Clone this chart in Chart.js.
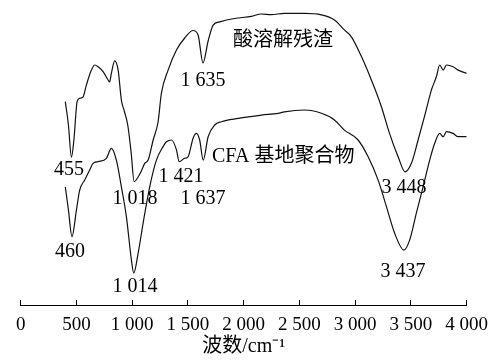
<!DOCTYPE html>
<html>
<head>
<meta charset="utf-8">
<script src="https://cdn.jsdelivr.net/npm/chart.js@4"></script>
<style>
  html, body { margin: 0; padding: 0; background: #fff; }
  canvas { display: block; }
</style>
</head>
<body>
<canvas id="ftir" width="493" height="361"></canvas>
<script>
// FTIR spectra: wavenumber (cm-1) and relative transmittance (arbitrary units)
const residueWn = [400, 428, 455, 477, 506, 529, 560, 589, 634, 664, 694, 739, 784, 798, 813, 843, 874, 903, 930, 960, 990,
  1018, 1050, 1080, 1112, 1143, 1188, 1232, 1262, 1322, 1397, 1471, 1546, 1591, 1635, 1681, 1726, 1785, 1919, 2069, 2159,
  2247, 2365, 2545, 2697, 2814, 2903, 2966, 3056, 3145, 3235, 3307, 3385, 3448, 3505, 3564, 3621, 3684, 3728, 3758, 3789,
  3818, 3878, 3923, 4000];
const residueT = [67.8, 60, 49.3, 55, 67.8, 68.9, 69.4, 73.3, 78.3, 80, 79.4, 77.8, 75, 74.4, 77.2, 81.4, 78.3, 68.3, 64.5, 60, 51,
  41.1, 42.5, 44.5, 47.2, 48.3, 55, 61, 70.6, 78.3, 85, 89, 91.5, 90, 80.7, 88, 93.3, 94.4, 95.5, 96.2, 97,
  96.8, 97.2, 97.2, 96.7, 95, 91.7, 89.4, 82.8, 75, 66.1, 57.3, 49.4, 44.4, 47.3, 55, 62.8, 71.7, 76.1, 80, 78.3,
  80, 79.4, 78.3, 77.2];

const geopolymerWn = [400, 428, 460, 500, 529, 574, 619, 649, 694, 769, 813, 858, 903, 948, 993, 1014, 1053, 1098, 1157, 1217,
  1277, 1307, 1352, 1397, 1421, 1471, 1501, 1546, 1576, 1605, 1637, 1681, 1740, 1800, 1950, 2159, 2309, 2365, 2545, 2697,
  2814, 2903, 3026, 3116, 3205, 3280, 3354, 3437, 3489, 3549, 3609, 3668, 3713, 3758, 3789, 3818, 3878, 3923, 4000];
const geopolymerT = [39.4, 31.7, 22.8, 31.7, 38.3, 41.7, 45, 47.2, 47.8, 48.9, 52.2, 48.3, 39.4, 29.4, 15, 10.6, 17.2, 27.3, 39.4, 48.3,
  52.8, 54.4, 55, 51.7, 47.8, 48.9, 49.4, 55.6, 57.2, 55, 48.3, 56.1, 60, 61.1, 62.2, 63.3, 63.9, 64.4, 65, 63.9,
  61.7, 58.3, 55, 49.4, 41.7, 32.8, 23.9, 18.3, 21.7, 30.7, 39.4, 48.3, 53.9, 57.2, 56.1, 57.8, 57.2, 56.1, 56.1];

// x-axis tick labels (0 ... 4 000, every 500)
const tickLabels = ['0', '500', '1 000', '1 500', '2 000', '2 500', '3 000', '3 500', '4 000'];

// band annotations: text, wavenumber, transmittance at which the text sits
const bandText = ['455', '460', '1 018', '1 014', '1 421', '1 637', '1 635', '3 448', '3 437'];
const bandWn   = [433, 442, 1025, 1025, 1438, 1635, 1635, 3438, 3429];
const bandT    = [45, 17.7, 35.3, 6, 42.7, 35.3, 74.7, 39, 11];

// curve names, placed next to each spectrum
const seriesNames = ['酸溶解残渣', 'CFA 基地聚合物'];
const nameWn = [1904, 1716];
const nameT  = [88, 49.3];

const toPoints = (xs, ys) => xs.map((x, i) => ({ x, y: ys[i] }));

const annotate = {
  id: 'bandLabels',
  afterDatasetsDraw(chart) {
    const { ctx, scales: { x, y } } = chart;
    ctx.save();
    ctx.fillStyle = '#000';
    ctx.textBaseline = 'middle';
    ctx.font = "20px 'Liberation Serif'";
    ctx.textAlign = 'center';
    bandText.forEach((t, i) => {
      ctx.fillText(t, x.getPixelForValue(bandWn[i]), y.getPixelForValue(bandT[i]));
    });
    ctx.font = "20px 'Liberation Serif', 'Noto Sans CJK SC'";
    ctx.textAlign = 'left';
    seriesNames.forEach((t, i) => {
      ctx.fillText(t, x.getPixelForValue(nameWn[i]), y.getPixelForValue(nameT[i]));
    });
    ctx.restore();
  }
};

const lineStyle = {
  borderColor: '#111',
  borderWidth: 1.2,
  pointRadius: 0,
  fill: false,
  cubicInterpolationMode: 'monotone'
};

new Chart(document.getElementById('ftir'), {
  type: 'line',
  data: {
    datasets: [
      Object.assign({ label: seriesNames[0], data: toPoints(residueWn, residueT) }, lineStyle),
      Object.assign({ label: seriesNames[1], data: toPoints(geopolymerWn, geopolymerT) }, lineStyle)
    ]
  },
  options: {
    responsive: false,
    animation: false,
    layout: { padding: { left: 20.7, right: 26.3, top: 5, bottom: 0 } },
    plugins: { legend: { display: false }, tooltip: { enabled: false } },
    scales: {
      x: {
        type: 'linear',
        position: 'bottom',
        min: 0,
        max: 4000,
        afterFit: (s) => { s.height = 56; s.paddingLeft = 0; s.paddingRight = 0; },
        ticks: {
          stepSize: 500,
          autoSkip: false,
          maxRotation: 0,
          padding: 14,
          color: '#000',
          font: { family: "'Liberation Serif'", size: 19 },
          callback: (v) => tickLabels[Math.round(v / 500)]
        },
        grid: { display: true, drawOnChartArea: false, drawTicks: true, tickLength: -5, color: '#000', lineWidth: 1 },
        border: { display: true, color: '#000', width: 1 },
        title: {
          display: true,
          text: '波数/cm⁻¹',
          color: '#000',
          font: { family: "'Liberation Serif', 'Noto Sans CJK SC'", size: 20 },
          padding: { top: 0, bottom: 2 }
        }
      },
      y: { display: false, min: 0, max: 100 }
    }
  },
  plugins: [annotate]
});
</script>
</body>
</html>
